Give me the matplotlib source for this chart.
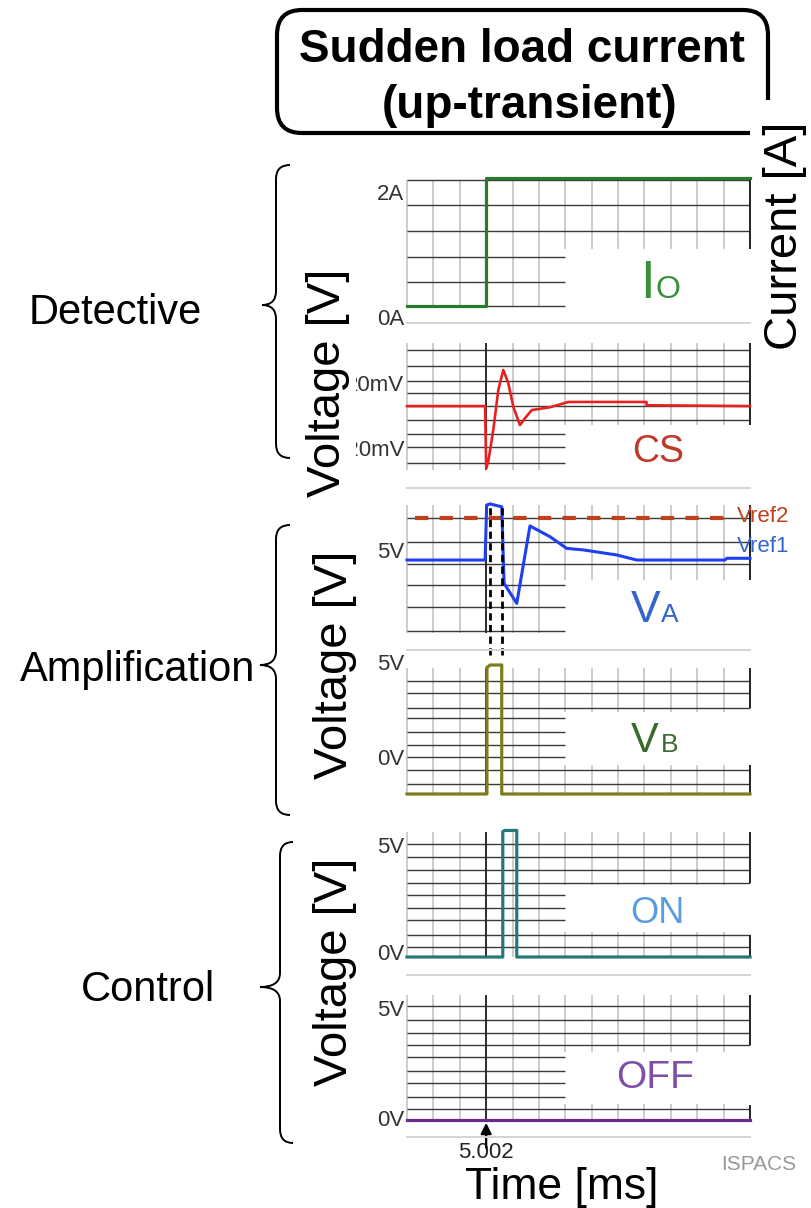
import matplotlib
matplotlib.use("Agg")
import matplotlib.pyplot as plt
from matplotlib.path import Path
from matplotlib.patches import PathPatch

plt.rcParams['font.family'] = ['Liberation Sans', 'DejaVu Sans']

# ---- data (time in scope divisions, trigger at division 3 = 5.002 ms) ----
t_marker = 3.0
marker_label = '5.002'

t_io = [0, 3.0, 3.0, 13]
i_io = [0, 0, 2.0, 2.0]                       # A

t_cs = [0, 2.96, 3.0, 3.08, 3.27, 3.46, 3.65, 3.84, 4.03, 4.28, 4.47,
        4.73, 5.42, 5.73, 6.11, 9.08, 9.08, 13]
v_cs = [4.8, 4.8, -32.9, -28.9, -9.7, 14.5, 26.7, 18.6, 4.4, -6.7, -2.6,
        2.4, 4.1, 5.5, 7.3, 7.3, 5.3, 4.8]    # mV

t_va = [0, 2.96, 3.02, 3.15, 3.59, 3.68, 4.16, 4.66, 5.42, 6.05, 6.68,
        7.95, 8.71, 12.05, 12.12, 13]
v_va = [4.18, 4.18, 6.68, 6.73, 6.6, 3.12, 2.21, 5.73, 5.24, 4.71, 4.64,
        4.41, 4.18, 4.18, 4.26, 4.26]         # V
vref2 = 6.09
t_vref2 = [0.3, 12.4]
t_cross = [3.15, 3.59]

t_vb = [0, 3.03, 3.03, 3.15, 3.59, 3.59, 13]
v_vb = [0, 0, 4.9, 5.0, 5.0, 0, 0]

t_on = [0, 3.63, 3.63, 3.7, 4.16, 4.16, 13]
v_on = [0, 0, 5.55, 5.6, 5.6, 0, 0]

t_off = [0, 13]
v_off = [0, 0]

# ---- layout (pixels) ----
W, H = 812, 1208
PX_L, PX_R = 407, 750
N_DIV = 13
BOX_DIV = 6
VGRID = '#c8c8c8'
HGRID = '#3a3a3a'
DARK = '#222222'

fig = plt.figure(figsize=(W / 100, H / 100), dpi=100)


def add_panel(top, bottom, anchor_hi, anchor_lo):
    (v_hi, p_hi), (v_lo, p_lo) = anchor_hi, anchor_lo
    per_px = (v_hi - v_lo) / (p_lo - p_hi)

    def to_val(p):
        return v_lo + (p_lo - p) * per_px

    ax = fig.add_axes([PX_L / W, 1 - bottom / H, (PX_R - PX_L) / W, (bottom - top) / H])
    ax.set_xlim(0, N_DIV)
    ax.set_ylim(to_val(bottom), to_val(top))
    ax.set_facecolor('none')
    for s in ax.spines.values():
        s.set_visible(False)
    ax.set_xticks([])
    ax.tick_params(axis='y', length=0, pad=2, labelsize=16, labelcolor='#333333')
    return ax, to_val


def draw_grid(ax, to_val, vtop, vbot, box, hfull, hleft, edge, dark):
    box_top, box_bot = box
    kw = dict(color=VGRID, lw=1.3, zorder=1, clip_on=False)
    for d in range(N_DIV):
        if d < BOX_DIV:
            ax.vlines(d, to_val(vbot), to_val(vtop), **kw)
        else:
            ax.vlines(d, to_val(box_top), to_val(vtop), **kw)
            if box_bot is not None:
                ax.vlines(d, to_val(vbot), to_val(box_bot), **kw)
    for p in hfull:
        ax.hlines(to_val(p), 0, N_DIV, color=HGRID, lw=1.0, zorder=2, clip_on=False)
    for p in hleft:
        ax.hlines(to_val(p), 0, BOX_DIV, color=HGRID, lw=1.0, zorder=2, clip_on=False)
    for a, b in edge:
        ax.vlines(N_DIV, to_val(b), to_val(a), color=DARK, lw=1.4, zorder=2, clip_on=False)
    if dark is not None:
        ax.vlines(t_marker, to_val(dark[1]), to_val(dark[0]), color=DARK, lw=1.3,
                  zorder=2, clip_on=False)


def set_ticks(ax, to_val, ticks):
    ax.set_yticks([to_val(p) for p, _ in ticks], [s for _, s in ticks])


# Io
ax_io, f_io = add_panel(170, 320, (2.0, 178), (0.0, 306))
draw_grid(ax_io, f_io, 180, 306, (249, None), [180, 205, 231], [257, 282, 306],
          [(180, 249)], None)
ax_io.plot(t_io, i_io, color='#2b7a2b', lw=2.3, zorder=3, clip_on=False)
set_ticks(ax_io, f_io, [(192, '2A'), (317, '0A')])

# CS
ax_cs, f_cs = add_panel(338, 475, (20.0, 381), (-20.0, 447))
draw_grid(ax_cs, f_cs, 343, 470, (425, None), [350, 366, 381, 393, 406, 420],
          [434, 447, 463], [(343, 425)], (343, 470))
ax_cs.plot(t_cs, v_cs, color='#e82020', lw=1.9, zorder=3, clip_on=False)
set_ticks(ax_cs, f_cs, [(383, '20mV'), (448, '-20mV')])

# VA
ax_va, f_va = add_panel(498, 636, (5.0, 542), (4.0, 564))
draw_grid(ax_va, f_va, 505, 633, (580, None), [518, 542, 564], [585, 607, 631],
          [(505, 580)], (505, 633))
ax_va.plot(t_vref2, [vref2, vref2], color='#c0401a', lw=3.0,
           linestyle=(0, (3.2, 2.7)), zorder=3, clip_on=False)
ax_va.plot(t_va, v_va, color='#1f3ff0', lw=2.2, zorder=4, clip_on=False)
ax_va.vlines(t_cross, f_va(655), f_va(506), color='black', lw=2.0,
             linestyles=[(0, (2.6, 1.6))], zorder=5, clip_on=False)
set_ticks(ax_va, f_va, [(550, '5V')])

# VB
ax_vb, f_vb = add_panel(660, 798, (5.0, 665), (0.0, 794))
draw_grid(ax_vb, f_vb, 668, 794, (712, 765), [681, 693, 708, 770, 784],
          [718, 732, 745, 757], [(668, 708), (765, 794)], (668, 794))
ax_vb.plot(t_vb, v_vb, color='#7d7d1e', lw=2.3, zorder=3, clip_on=False)
set_ticks(ax_vb, f_vb, [(662, '5V'), (757, '0V')])

# ON
ax_on, f_on = add_panel(824, 961, (5.0, 844), (0.0, 957))
draw_grid(ax_on, f_on, 832, 957, (885, 932), [844, 857, 870, 883, 935, 947],
          [895, 908, 920], [(832, 883), (935, 957)], (832, 957))
ax_on.plot(t_on, v_on, color='#267878', lw=2.3, zorder=3, clip_on=False)
set_ticks(ax_on, f_on, [(845, '5V'), (952, '0V')])

# OFF
ax_off, f_off = add_panel(990, 1124, (5.0, 1006), (0.0, 1120))
draw_grid(ax_off, f_off, 995, 1120, (1052, 1104), [1006, 1020, 1033, 1045, 1109],
          [1057, 1071, 1083, 1097], [(995, 1045), (1105, 1120)], (995, 1120))
ax_off.plot(t_off, v_off, color='#6b2d8b', lw=2.3, zorder=3, clip_on=False)
set_ticks(ax_off, f_off, [(1008, '5V'), (1118, '0V')])
ax_off.set_xticks([t_marker], [marker_label])
ax_off.tick_params(axis='x', length=0, pad=13, labelsize=16, labelcolor='#222222')
ax_off.annotate('', xy=(t_marker, 0), xytext=(0, -22), textcoords='offset points',
                arrowprops=dict(arrowstyle='-|>', color='black', lw=1.6, mutation_scale=16),
                annotation_clip=False)

# ---- overlay: frame, braces, labels ----
ov = fig.add_axes([0, 0, 1, 1])
ov.set_xlim(0, W)
ov.set_ylim(H, 0)
ov.axis('off')
ov.set_zorder(5)

for y in [323, 488, 650, 975, 1137]:
    ov.plot([PX_L, PX_R], [y, y], color='#d4d4d4', lw=1.4)

r = 25
verts = [(750, 133), (277 + r, 133), (277, 133), (277, 133 - r), (277, 10 + r),
         (277, 10), (277 + r, 10), (768 - r, 10), (768, 10), (768, 10 + r), (768, 100)]
codes = [Path.MOVETO, Path.LINETO, Path.CURVE3, Path.CURVE3, Path.LINETO,
         Path.CURVE3, Path.CURVE3, Path.LINETO, Path.CURVE3, Path.CURVE3, Path.LINETO]
ov.add_patch(PathPatch(Path(verts, codes), fill=False, lw=3.0, color='black',
                       capstyle='butt'))
ov.text(522, 50, 'Sudden load current', ha='center', va='center', fontsize=33,
        fontweight='bold')
ov.text(530, 106, '(up-transient)', ha='center', va='center', fontsize=33,
        fontweight='bold')


def brace(x_end, x_spine, x_tip, y_top, y_tip, y_bot, rr=14):
    v = [(x_end, y_top), (x_spine, y_top), (x_spine, y_top + rr), (x_spine, y_tip - rr),
         (x_spine, y_tip), (x_tip, y_tip), (x_spine, y_tip), (x_spine, y_tip + rr),
         (x_spine, y_bot - rr), (x_spine, y_bot), (x_end, y_bot)]
    c = [Path.MOVETO, Path.CURVE3, Path.CURVE3, Path.LINETO, Path.CURVE3, Path.CURVE3,
         Path.CURVE3, Path.CURVE3, Path.LINETO, Path.CURVE3, Path.CURVE3]
    ov.add_patch(PathPatch(Path(v, c), fill=False, lw=1.4, color='black'))


brace(290, 276, 262, 165, 305, 458)
brace(290, 276, 260, 525, 665, 815)
brace(293, 280, 260, 842, 987, 1143)

ov.text(115, 313, 'Detective', ha='center', va='center', fontsize=30)
ov.text(138, 670, 'Amplification', ha='center', va='center', fontsize=30)
ov.text(148, 990, 'Control', ha='center', va='center', fontsize=30)

ov.text(328, 383, 'Voltage [V]', rotation=90, ha='center', va='center', fontsize=34,
        bbox=dict(fc='white', ec='none', pad=4))
ov.text(335, 665, 'Voltage [V]', rotation=90, ha='center', va='center', fontsize=34)
ov.text(335, 972, 'Voltage [V]', rotation=90, ha='center', va='center', fontsize=34)
ov.text(785, 236, 'Current [A]', rotation=90, ha='center', va='center', fontsize=34)

# in-panel signal names
ov.text(640, 298, 'I', ha='left', va='baseline', fontsize=38, color='#3a8f3a')
ov.text(656, 298, 'O', ha='left', va='baseline', fontsize=23, color='#3a8f3a')
ov.text(658, 462, 'CS', ha='center', va='baseline', fontsize=27, color='#c0392b')
ov.text(631, 622, 'V', ha='left', va='baseline', fontsize=32, color='#3366cc')
ov.text(661, 622, 'A', ha='left', va='baseline', fontsize=19, color='#3366cc')
ov.text(631, 752, 'V', ha='left', va='baseline', fontsize=30, color='#3b6b2b')
ov.text(661, 752, 'B', ha='left', va='baseline', fontsize=19, color='#3b6b2b')
ov.text(657, 923, 'ON', ha='center', va='baseline', fontsize=26, color='#5b9bdf')
ov.text(655, 1088, 'OFF', ha='center', va='baseline', fontsize=28, color='#7d4fa6')
ov.text(737, 516, 'Vref2', ha='left', va='center', fontsize=16, color='#c0401a')
ov.text(737, 547, 'Vref1', ha='left', va='center', fontsize=16, color='#3366cc')

ov.text(562, 1187, 'Time [ms]', ha='center', va='center', fontsize=32)
ov.text(759, 1165, 'ISPACS', ha='center', va='center', fontsize=15, color='#999999')

fig.savefig('out.png', dpi=100)
